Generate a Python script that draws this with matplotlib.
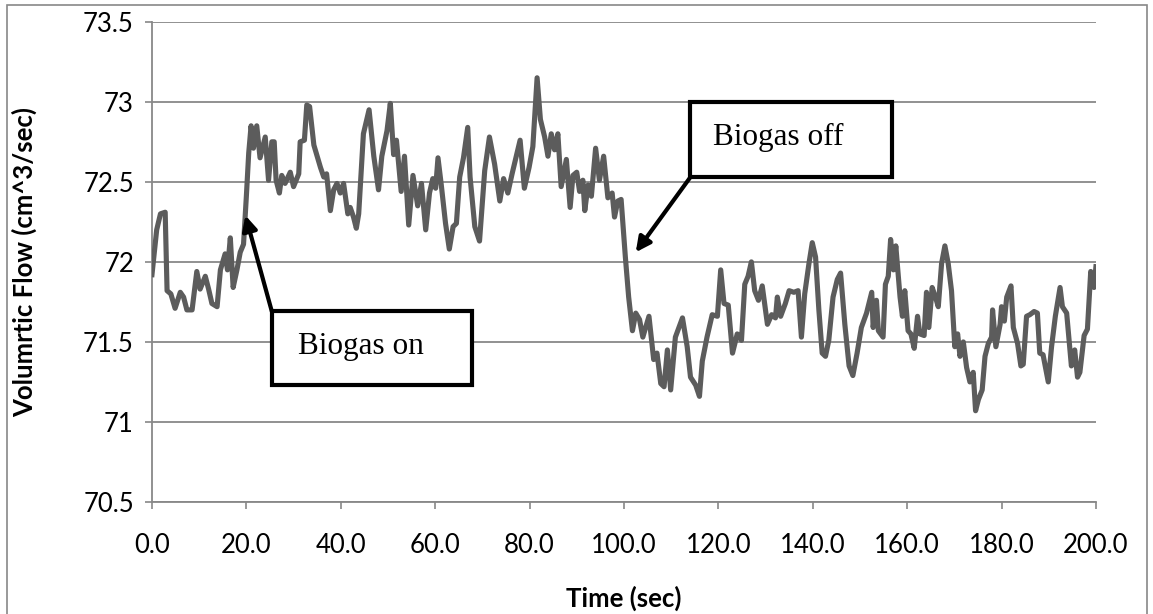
"""Volumetric flow trace with biogas on/off markers."""
import matplotlib
matplotlib.use("Agg")
import matplotlib.pyplot as plt
from matplotlib.patches import Rectangle

# time (s) and flow (cm^3/s)
time_s = [
    0.0, 1.0, 1.8, 2.8, 3.2, 4.0, 4.9, 6.0, 6.7, 7.4, 8.5, 9.5, 10.2, 11.3,
    12.0, 12.7, 13.8, 14.5, 15.5, 16.0, 16.6, 17.2, 18.0, 18.7, 19.4, 20.0,
    20.5, 21.0, 21.5, 22.2, 22.9, 24.0, 24.7, 25.4, 25.9, 26.3, 27.0, 27.5,
    28.2, 29.3, 30.0, 31.1, 31.4, 32.3, 32.8, 33.4, 34.3, 35.0, 35.7, 36.4,
    37.0, 37.8, 38.5, 39.2, 39.9, 40.6, 41.5, 42.0, 42.7, 43.3, 43.8, 44.8,
    46.0, 47.0, 48.0, 48.7, 49.8,
    50.5, 51.2, 51.8, 52.8, 53.5, 54.4, 55.3, 56.3, 57.1, 58.0, 58.8, 59.5,
    60.1, 60.6, 61.3, 62.2, 63.0, 63.8, 64.5, 65.2, 66.0, 66.9, 67.4, 68.4,
    69.4, 70.5, 71.5, 72.6, 73.7, 74.5, 75.4, 76.3, 77.2, 78.0, 78.9, 79.9,
    80.7, 81.6, 82.3, 83.2, 83.9, 84.6, 85.3, 86.0, 86.7, 87.8, 88.6, 89.2,
    90.0, 90.6, 91.3, 91.7, 92.4, 93.1, 94.0, 94.8, 95.7, 96.6, 97.5, 98.0,
    98.7, 99.4,
    100.3, 101.0, 101.8, 102.5, 103.3, 104.0, 105.3, 106.3, 107.0, 107.8,
    108.5, 109.2, 109.9, 110.9, 112.4, 113.4, 114.1, 115.2, 116.0, 116.6,
    117.6, 118.7, 119.8, 120.5, 121.2, 122.1, 123.0, 124.0, 124.9, 125.6,
    126.3, 127.0, 127.7, 128.5, 129.3, 130.4, 131.3, 132.1, 132.5, 133.2,
    134.2, 135.0, 136.0, 136.9, 137.6, 138.3, 139.2, 139.9, 140.6, 141.3,
    142.0, 142.7, 143.4, 144.3, 145.2, 145.9, 146.8, 147.7, 148.5, 149.4,
    150.3, 151.4, 152.5, 152.8, 153.5, 153.9, 154.9, 155.4, 156.0, 156.5,
    157.1, 157.6, 158.5, 159.0, 159.5, 160.2, 160.8, 161.5, 162.2, 162.7,
    163.6, 164.1, 164.6, 165.3, 166.0, 166.6, 167.3, 168.0, 168.7, 169.4,
    170.1, 170.7, 171.2, 171.9, 172.6, 173.3, 174.0, 174.5, 175.1, 175.9,
    176.5, 177.2, 177.9, 178.1, 178.8, 179.7, 180.0, 180.6, 181.1, 182.0,
    182.5, 183.4, 184.1, 184.6, 185.3, 186.0, 186.9, 187.6, 188.1, 188.8,
    189.9, 190.6, 191.4, 192.4, 192.9, 193.8, 194.8, 195.5, 196.1, 196.6,
    197.5, 198.2, 198.9, 199.6, 200.0,
]
flow = [
    71.92, 72.20, 72.30, 72.31, 71.82, 71.80, 71.71, 71.81, 71.78, 71.70,
    71.70, 71.94, 71.83, 71.91, 71.83, 71.74, 71.72, 71.95, 72.05, 71.95,
    72.15, 71.84, 71.95, 72.06, 72.11, 72.41, 72.68, 72.85, 72.71, 72.85,
    72.65, 72.78, 72.51, 72.75, 72.75, 72.51, 72.43, 72.54, 72.49, 72.56,
    72.47, 72.55, 72.75, 72.76, 72.98, 72.97, 72.73, 72.66, 72.59, 72.53,
    72.55, 72.32, 72.45, 72.49, 72.43, 72.49, 72.30, 72.34, 72.28, 72.21,
    72.30, 72.80, 72.95, 72.66, 72.45, 72.66, 72.82,
    72.99, 72.67, 72.76, 72.44, 72.66, 72.23, 72.54, 72.35, 72.49, 72.20,
    72.43, 72.52, 72.46, 72.65, 72.48, 72.24, 72.08, 72.22, 72.24, 72.53,
    72.65, 72.84, 72.53, 72.22, 72.13, 72.57, 72.78, 72.61, 72.38, 72.52,
    72.43, 72.55, 72.66, 72.76, 72.46, 72.59, 72.72, 73.15, 72.89, 72.78,
    72.66, 72.80, 72.70, 72.80, 72.47, 72.64, 72.34, 72.54, 72.56, 72.44,
    72.51, 72.32, 72.48, 72.41, 72.71, 72.51, 72.66, 72.40, 72.43, 72.28,
    72.38, 72.39,
    72.03, 71.78, 71.57, 71.68, 71.64, 71.53, 71.66, 71.39, 71.43, 71.24,
    71.22, 71.45, 71.20, 71.53, 71.65, 71.47, 71.28, 71.23, 71.16, 71.38,
    71.53, 71.67, 71.66, 71.95, 71.74, 71.73, 71.43, 71.55, 71.51, 71.86,
    71.91, 72.00, 71.82, 71.76, 71.85, 71.61, 71.67, 71.65, 71.78, 71.66,
    71.74, 71.82, 71.81, 71.82, 71.53, 71.80, 71.99, 72.12, 72.03, 71.70,
    71.43, 71.41, 71.51, 71.78, 71.89, 71.93, 71.61, 71.35, 71.29, 71.43,
    71.59, 71.68, 71.81, 71.59, 71.76, 71.57, 71.53, 71.86, 71.91, 72.14,
    71.95, 72.10, 71.78, 71.66, 71.82, 71.57, 71.55, 71.46, 71.66, 71.55,
    71.54, 71.81, 71.59, 71.84, 71.78, 71.72, 71.99, 72.10, 71.99, 71.82,
    71.47, 71.55, 71.41, 71.50, 71.34, 71.25, 71.31, 71.07, 71.14, 71.20,
    71.41, 71.49, 71.53, 71.70, 71.47, 71.61, 71.72, 71.63, 71.78, 71.85,
    71.59, 71.49, 71.35, 71.36, 71.66, 71.67, 71.69, 71.68, 71.43, 71.42,
    71.25, 71.47, 71.66, 71.84, 71.72, 71.68, 71.35, 71.45, 71.28, 71.31,
    71.54, 71.58, 71.94, 71.84, 71.97,
]

x_ticks = [0, 20, 40, 60, 80, 100, 120, 140, 160, 180, 200]
y_ticks = [70.5, 71, 71.5, 72, 72.5, 73, 73.5]
y_tick_labels = ["70.5", "71", "71.5", "72", "72.5", "73", "73.5"]

LINE = "#5c5c5c"
GRID = "#888888"
FONT = "Lato"

fig = plt.figure(figsize=(11.53, 6.14), dpi=100)
ax = fig.add_axes([0.1318, 0.1824, 0.8187, 0.7822])

ax.plot(time_s, flow, color=LINE, linewidth=3.7, solid_joinstyle="round",
        zorder=3)

ax.set_xlim(0, 200)
ax.set_ylim(70.5, 73.5)
ax.set_xticks(x_ticks)
ax.set_xticklabels([f"{v:.1f}" for v in x_ticks], fontsize=18.5, family=FONT)
ax.set_yticks(y_ticks)
ax.set_yticklabels(y_tick_labels, fontsize=18.5, family=FONT)
ax.tick_params(axis="both", direction="out", length=5, width=1.2, color=GRID,
               pad=8)
ax.tick_params(axis="x", pad=17)
ax.yaxis.grid(True, color=GRID, linewidth=1.3)
ax.set_axisbelow(True)
for side in ("top", "right"):
    ax.spines[side].set_visible(False)
for side in ("left", "bottom"):
    ax.spines[side].set_color(GRID)
    ax.spines[side].set_linewidth(1.3)

ax.set_xlabel("Time (sec)", fontsize=18.5, fontweight="bold", family=FONT,
              labelpad=20)
ax.set_ylabel("Volumrtic Flow (cm^3/sec)", fontsize=18.5, fontweight="bold",
              family=FONT, labelpad=33)

# callout boxes with arrows
def callout(x0, y0, x1, y1, label, tx, ty, tip, corner):
    ax.add_patch(Rectangle((x0, y0), x1 - x0, y1 - y0, facecolor="white",
                           edgecolor="black", linewidth=3, zorder=5))
    ax.text(tx, ty, label, fontsize=22.5, family="Liberation Serif",
            ha="left", va="center", zorder=6)
    ax.annotate("", xy=tip, xytext=corner, zorder=6,
                arrowprops=dict(arrowstyle="-|>", color="black", lw=3,
                                mutation_scale=22, shrinkA=0, shrinkB=0))

callout(25.4, 71.23, 67.9, 71.69, "Biogas on", 31.0, 71.47,
        (19.8, 72.29), (25.4, 71.69))
callout(114.1, 72.53, 156.7, 73.0, "Biogas off", 118.9, 72.78,
        (102.5, 72.06), (114.1, 72.53))

# outer chart border
fig.add_artist(Rectangle((7 / 1153, -0.02), 1140 / 1153, 1.02 - 5 / 614,
                         transform=fig.transFigure, fill=False,
                         edgecolor=GRID, linewidth=1.2))

fig.savefig("out.png", dpi=100)
